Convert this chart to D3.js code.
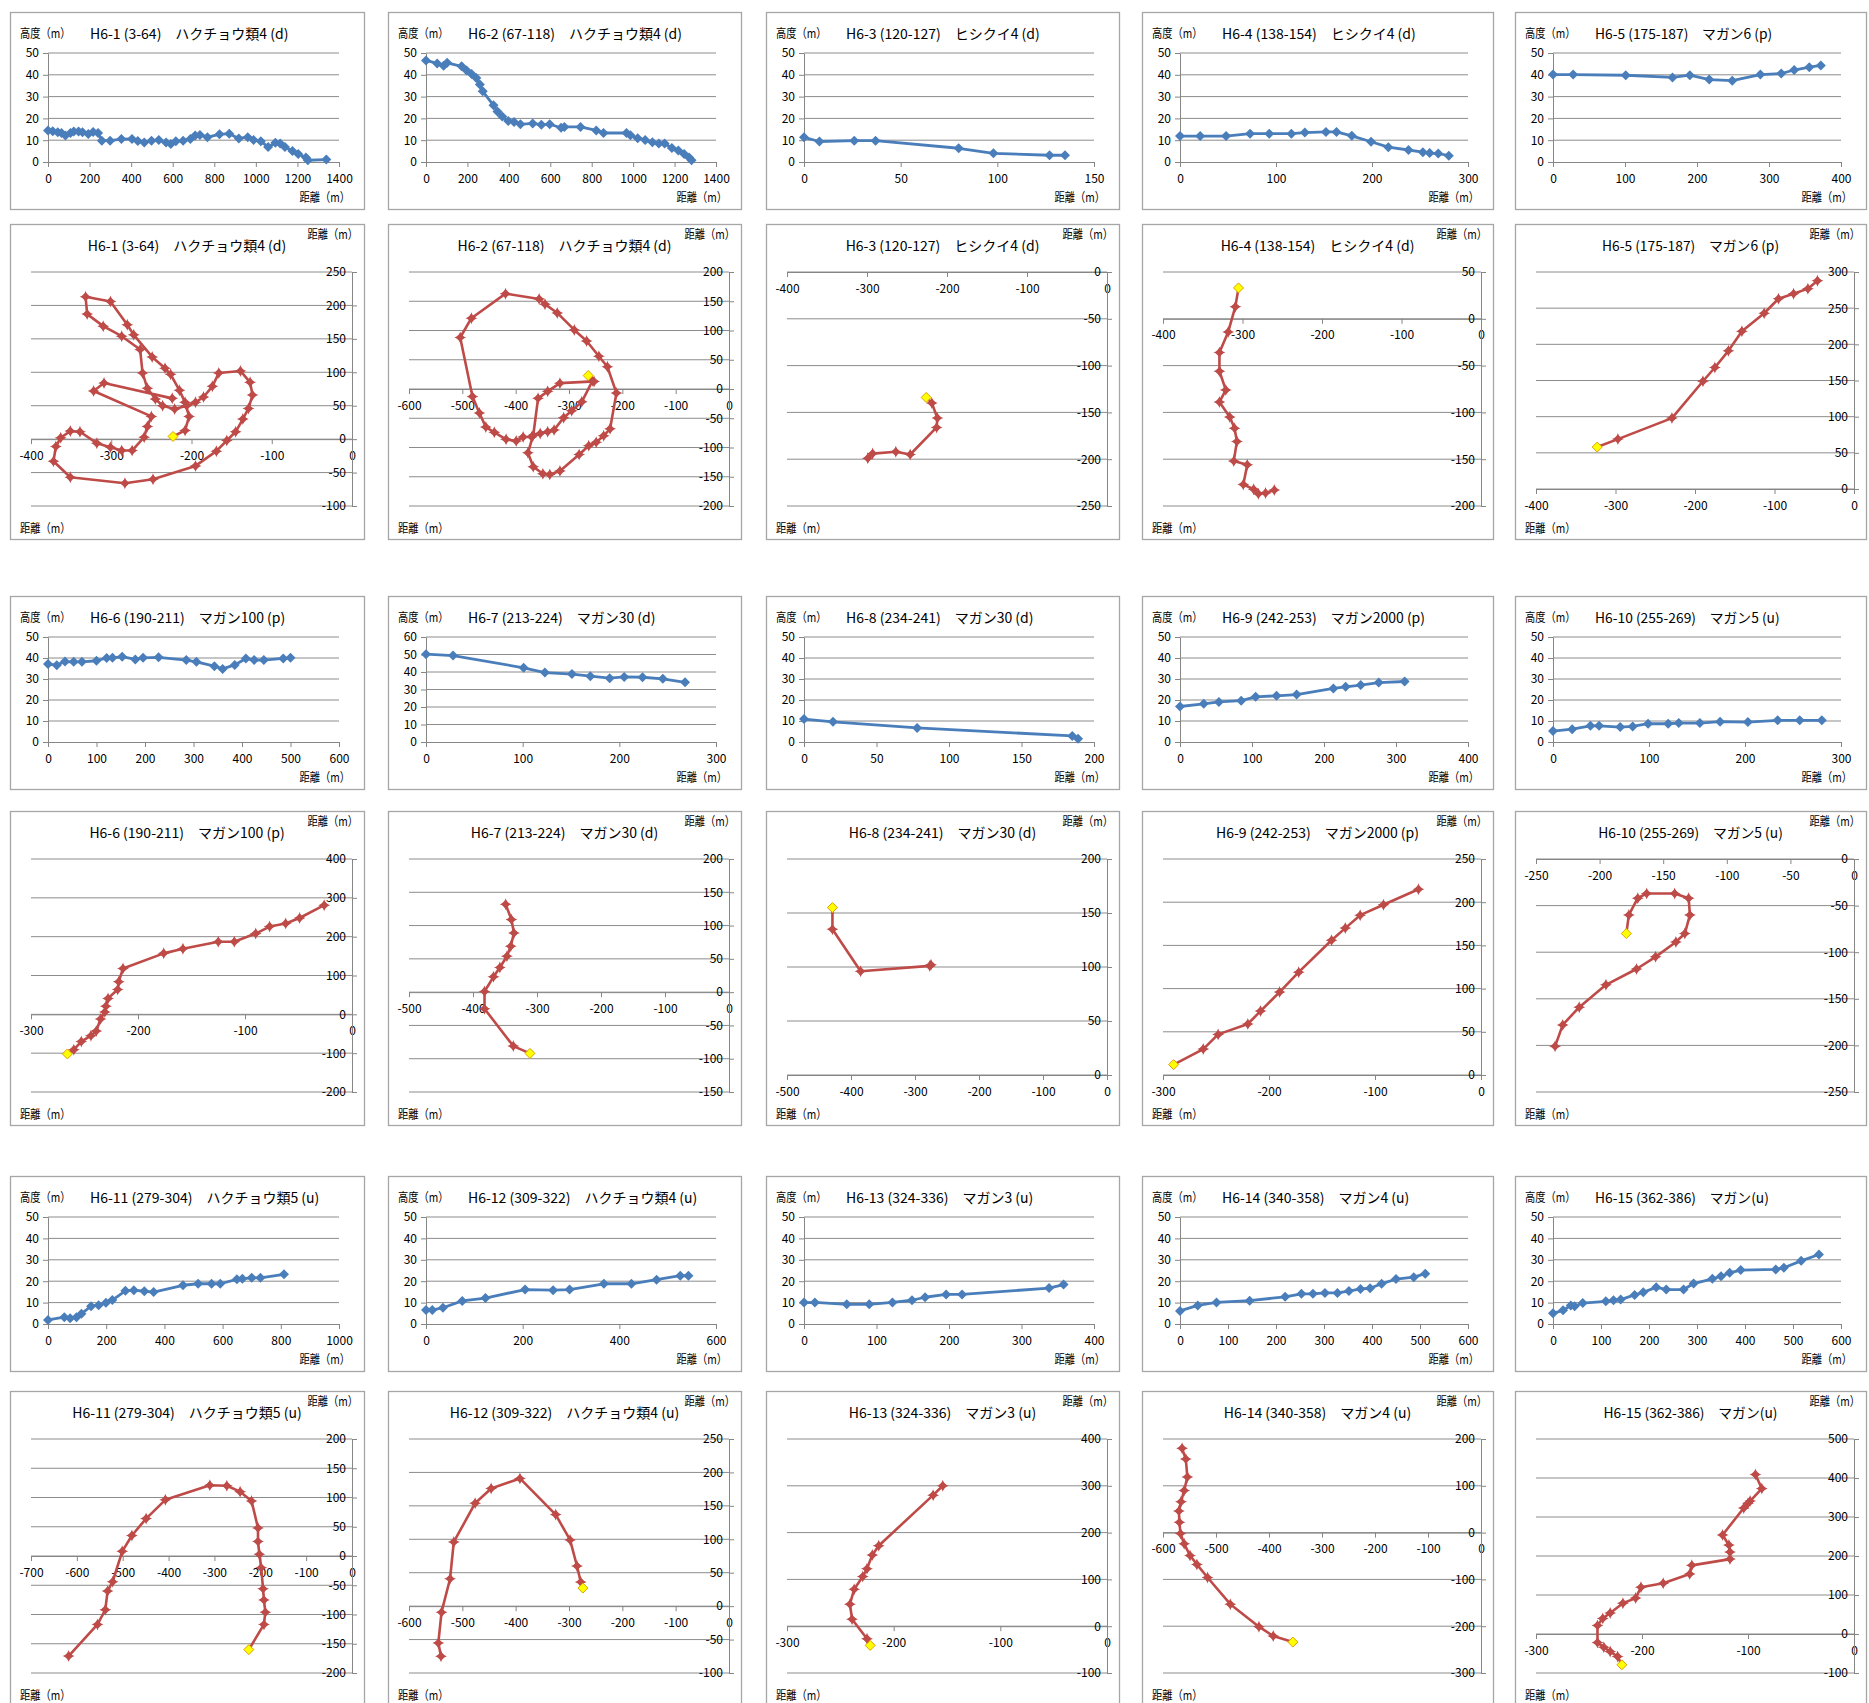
<!DOCTYPE html>
<meta charset="utf-8">
<style>
body { margin: 0; background: #fff; }
text { font-family: "Noto Sans CJK JP", "Noto Sans", sans-serif; fill: #000; }
</style>
<svg width="1869" height="1703"></svg>
<script src="https://d3js.org/d3.v7.min.js"></script>
<script>
"use strict";

// titles of the 15 flights
var titles = [
  "H6-1 (3-64)　ハクチョウ類4 (d)", "H6-2 (67-118)　ハクチョウ類4 (d)", "H6-3 (120-127)　ヒシクイ4 (d)",
  "H6-4 (138-154)　ヒシクイ4 (d)", "H6-5 (175-187)　マガン6 (p)", "H6-6 (190-211)　マガン100 (p)",
  "H6-7 (213-224)　マガン30 (d)", "H6-8 (234-241)　マガン30 (d)", "H6-9 (242-253)　マガン2000 (p)",
  "H6-10 (255-269)　マガン5 (u)", "H6-11 (279-304)　ハクチョウ類5 (u)", "H6-12 (309-322)　ハクチョウ類4 (u)",
  "H6-13 (324-336)　マガン3 (u)", "H6-14 (340-358)　マガン4 (u)", "H6-15 (362-386)　マガン(u)"
];

// altitude charts: x max, x step, y max
var altXMax  = [1400, 1400, 150, 300, 400, 600, 300, 200, 400, 300, 1000, 600, 400, 600, 600];
var altXStep = [200, 200, 50, 100, 100, 100, 100, 50, 100, 100, 200, 200, 100, 100, 100];
var altYMax  = [50, 50, 50, 50, 50, 50, 60, 50, 50, 50, 50, 50, 50, 50, 50];

// track charts: [min, max, step]
var trkX = [[-400,0,100],[-600,0,100],[-400,0,100],[-400,0,100],[-400,0,100],
            [-300,0,100],[-500,0,100],[-500,0,100],[-300,0,100],[-250,0,50],
            [-700,0,100],[-600,0,100],[-300,0,100],[-600,0,100],[-300,0,100]];
var trkY = [[-100,250,50],[-200,200,50],[-250,0,50],[-200,50,50],[0,300,50],
            [-200,400,100],[-150,200,50],[0,200,50],[0,250,50],[-250,0,50],
            [-200,200,50],[-100,250,50],[-100,400,100],[-300,200,100],[-100,500,100]];

// altitude profiles [distance, height]
var alt1 = [[0,14.5],[23,14.1],[47,13.7],[65,13.3],[84,12.1],[108,13.3],[124,14],[147,14],[166,13.7],[194,12.9],[217,13.8],[241,13.3],[259,9.8],[299,9.8],[353,10.5],[404,10.6],[432,9.6],[463,9],[498,9.8],[533,10.1],[568,9],[591,8.2],[615,9.5],[650,9.8],[685,10.5],[708,12.1],[731,12.4],[767,11.4],[825,12.7],[872,13],[918,10.8],[961,11.4],[989,10.1],[1024,9.5],[1059,6.9],[1094,8.8],[1117,8.5],[1140,6.9],[1176,5],[1204,3.7],[1241,2.1],[1250,0.8],[1339,1.1]];
var alt2 = [[0,46.6],[54,45.2],[85,44.1],[102,45.5],[172,43.9],[196,42],[220,40.4],[243,38.5],[260,35.6],[274,32.4],[326,26],[345,23.2],[368,20.9],[397,18.8],[425,18.4],[456,17.3],[515,17.7],[557,17.1],[597,17.3],[652,15.7],[668,16.1],[746,16.1],[822,14.5],[857,13.3],[968,13.3],[987,12.3],[1022,10.9],[1058,10.1],[1093,9.1],[1124,8.5],[1152,8.5],[1187,6.4],[1218,5.3],[1246,3.7],[1270,2.1],[1282,0.8]];
var alt3 = [[0,11.3],[8,9.4],[26,9.8],[37,9.8],[80,6.3],[98,4],[127,3.1],[135,3.1]];
var alt4 = [[0,11.9],[21,11.9],[48,11.9],[73,13],[93,13],[116,13],[130,13.5],[152,13.8],[163,13.8],[179,12],[199,9.3],[217,6.8],[238,5.5],[253,4.5],[260,4.1],[269,3.9],[280,2.9]];
var alt5 = [[0,40.1],[28,40.1],[101,39.8],[166,38.8],[190,39.8],[217,37.8],[249,37.3],[288,40.1],[317,40.6],[335,42.2],[356,43.5],[372,44.3]];
var alt6 = [[0,37.1],[18,36.6],[35,38.3],[53,38.2],[70,38.2],[100,38.7],[121,40],[133,40.1],[153,40.6],[180,39.3],[196,40.1],[228,40.3],[285,39],[306,38.2],[343,36.1],[360,34.8],[385,36.7],[408,39.8],[425,39],[445,39],[485,39.8],[500,40.1]];
var alt7 = [[0,50.2],[28,49.4],[101,42.4],[123,39.7],[151,38.8],[170,37.6],[190,36.5],[205,37.2],[224,37],[245,36.1],[268,34.1]];
var alt8 = [[0,10.9],[20,9.6],[78,6.7],[185,2.9],[189,1.6]];
var alt9 = [[0,16.9],[33,18.2],[54,19.1],[85,19.7],[105,21.5],[134,22],[162,22.6],[213,25.5],[230,26.3],[251,27.1],[276,28.3],[312,28.8]];
var alt10 = [[0,5.2],[20,6.1],[39,7.7],[48,7.7],[70,7.1],[83,7.4],[99,8.7],[120,8.7],[131,9],[153,9],[174,9.7],[203,9.5],[234,10.3],[257,10.3],[280,10.3]];
var alt11 = [[0,1.9],[56,3.2],[76,2.7],[98,3.2],[115,4.8],[148,8.3],[174,8.8],[199,9.9],[221,11.2],[266,15.5],[295,15.8],[331,15.3],[363,14.9],[464,18.1],[516,18.8],[562,18.8],[592,18.8],[649,20.9],[668,21.2],[700,21.6],[730,21.6],[811,23.2]];
var alt12 = [[0,6.5],[13,6.5],[35,7.6],[75,10.8],[123,12.1],[205,16.1],[263,15.8],[297,16.1],[368,18.8],[425,18.8],[477,20.7],[526,22.6],[543,22.5]];
var alt13 = [[0,10],[15,10.1],[59,9.2],[90,9.2],[122,10.1],[149,11.1],[167,12.5],[196,13.8],[218,13.8],[338,16.8],[358,18.4]];
var alt14 = [[0,6.1],[37,8.7],[76,10.1],[145,10.9],[219,12.7],[253,14.1],[277,14.1],[302,14.5],[328,14.5],[352,15.4],[376,16.4],[396,16.7],[420,18.8],[450,21],[487,21.9],[511,23.5]];
var alt15 = [[0,5],[21,6.4],[37,8.6],[45,8.3],[62,9.8],[110,10.6],[126,11.1],[141,11.4],[170,13.6],[188,14.8],[215,17.2],[236,16.1],[272,16.1],[293,18.9],[332,21.1],[350,22.3],[368,23.9],[391,25.2],[464,25.5],[481,26.3],[517,29.5],[554,32.5]];

// plan-view tracks [east-west, north-south]; first point = start (yellow)
var trk1 = [[-223,4],[-208,13],[-203,34],[-208,55],[-215,73],[-226,97],[-233,106],[-249,123],[-272,156],[-280,171],[-301,206],[-332,213],[-330,187],[-310,169],[-287,154],[-264,134],[-261,99],[-255,76],[-245,60],[-236,50],[-221,45],[-206,50],[-195,55],[-185,63],[-174,79],[-166,99],[-139,102],[-127,85],[-124,66],[-129,46],[-136,30],[-145,11],[-156,-2],[-169,-18],[-195,-40],[-248,-60],[-283,-66],[-351,-57],[-372,-33],[-369,-11],[-363,2],[-351,12],[-339,11],[-318,-6],[-301,-12],[-287,-17],[-274,-17],[-259,3],[-255,19],[-250,34],[-322,72],[-309,84],[-224,61]];
var trk2 = [[-264,23],[-256,14],[-276,-22],[-295,-37],[-310,-49],[-328,-70],[-340,-73],[-354,-76],[-370,-82],[-386,-82],[-399,-89],[-418,-86],[-440,-74],[-456,-65],[-468,-41],[-481,-13],[-504,88],[-483,121],[-419,163],[-356,154],[-345,145],[-322,130],[-290,101],[-267,82],[-244,56],[-228,38],[-211,-7],[-223,-68],[-235,-80],[-249,-91],[-263,-97],[-281,-112],[-317,-140],[-336,-146],[-349,-145],[-367,-133],[-377,-109],[-367,-79],[-358,-16],[-340,-4],[-317,10],[-253,13]];
var trk3 = [[-226,-134],[-219,-140],[-212,-156],[-213,-166],[-246,-195],[-264,-192],[-293,-194],[-299,-199]];
var trk4 = [[-305,33],[-309,13],[-318,-14],[-329,-36],[-329,-56],[-321,-76],[-329,-89],[-316,-105],[-310,-117],[-307,-131],[-311,-152],[-294,-156],[-299,-177],[-286,-182],[-280,-187],[-271,-186],[-260,-183]];
var trk5 = [[-323,58],[-297,69],[-229,98],[-190,149],[-175,168],[-158,191],[-141,218],[-113,243],[-95,263],[-76,270],[-58,277],[-46,288]];
var trk6 = [[-266,-102],[-260,-91],[-253,-70],[-244,-55],[-239,-43],[-235,-12],[-231,6],[-230,21],[-228,41],[-219,64],[-218,84],[-214,118],[-176,157],[-158,169],[-125,187],[-110,187],[-90,208],[-77,226],[-62,234],[-49,248],[-26,281]];
var trk7 = [[-311,-92],[-337,-81],[-382,-25],[-382,1],[-368,23],[-358,37],[-347,54],[-341,69],[-336,89],[-340,109],[-349,132]];
var trk8 = [[-429,155],[-429,135],[-385,96],[-277,101],[-275,102]];
var trk9 = [[-290,12],[-262,30],[-248,47],[-220,59],[-208,74],[-190,96],[-172,119],[-141,156],[-128,170],[-114,185],[-92,197],[-59,215]];
var trk10 = [[-179,-80],[-177,-60],[-170,-42],[-163,-37],[-141,-37],[-130,-42],[-129,-60],[-133,-80],[-140,-89],[-156,-105],[-171,-118],[-195,-135],[-216,-159],[-229,-178],[-235,-201]];
var trk11 = [[-225,-160],[-192,-117],[-189,-96],[-192,-75],[-194,-56],[-198,-20],[-202,3],[-205,25],[-205,48],[-219,94],[-244,110],[-273,120],[-310,121],[-407,96],[-449,64],[-480,35],[-501,8],[-522,-44],[-533,-60],[-538,-92],[-555,-117],[-618,-171]];
var trk12 = [[-274,27],[-278,36],[-285,60],[-298,99],[-325,137],[-392,191],[-446,176],[-476,154],[-516,96],[-523,41],[-539,-9],[-545,-55],[-540,-75]];
var trk13 = [[-222,-41],[-225,-27],[-239,15],[-241,47],[-237,79],[-229,106],[-225,123],[-220,152],[-214,172],[-163,280],[-154,300]];
var trk14 = [[-355,-234],[-392,-221],[-419,-201],[-473,-153],[-516,-96],[-536,-68],[-549,-49],[-560,-24],[-567,-2],[-569,22],[-570,46],[-566,66],[-560,90],[-554,119],[-557,157],[-564,180]];
var trk15 = [[-219,-79],[-223,-58],[-230,-45],[-236,-34],[-242,-22],[-242,22],[-237,40],[-230,54],[-218,79],[-206,92],[-201,120],[-180,130],[-155,154],[-153,176],[-117,192],[-117,210],[-118,228],[-124,254],[-104,323],[-100,335],[-98,341],[-87,373],[-93,409]];

var altSets = [alt1,alt2,alt3,alt4,alt5,alt6,alt7,alt8,alt9,alt10,alt11,alt12,alt13,alt14,alt15];
var trkSets = [trk1,trk2,trk3,trk4,trk5,trk6,trk7,trk8,trk9,trk10,trk11,trk12,trk13,trk14,trk15];

// layout
var colX = [10, 388, 766, 1142, 1515];
var colW = [354, 353, 353, 351, 351];
var altTop = [12, 596, 1176], altH = [197, 193, 195];
var trkTop = [224, 811, 1391], trkH = [315, 314, 315];

var blue = "#4A7EBB", red = "#BE4B48", gridCol = "#8c8c8c", axisCol = "#868686";
var font = '"Noto Sans CJK JP", "Noto Sans", sans-serif';

var svg = d3.select("svg");

function diamond(r) { return "M0," + (-r) + "L" + r + ",0L0," + r + "L" + (-r) + ",0Z"; }
var starPath = "M0,-6L1.6,-1.6L6,0L1.6,1.6L0,6L-1.6,1.6L-6,0L-1.6,-1.6Z";

function txt(g, s, x, y, size, anchor, sx) {
  return g.append("text")
    .attr("transform", "translate(" + x + "," + y + ") scale(" + sx + ",1)")
    .attr("font-size", size).attr("text-anchor", anchor).text(s);
}

function styleAxis(a) {
  a.attr("font-family", font).attr("font-size", 12);
  a.select(".domain").attr("stroke", axisCol);
  a.selectAll(".tick line").attr("stroke", axisCol);
  a.selectAll(".tick text").attr("fill", "#000");
}

function box(g, w, h) {
  g.append("rect").attr("x", 0.5).attr("y", 0.5).attr("width", w).attr("height", h)
    .attr("fill", "#fff").attr("stroke", "#a6a6a6").attr("stroke-width", 1.3);
}

function drawAlt(k) {
  var c = k % 5, r = Math.floor(k / 5);
  var w = colW[c], h = altH[r];
  var g = svg.append("g").attr("transform", "translate(" + colX[c] + "," + altTop[r] + ")");
  box(g, w, h);

  var x = d3.scaleLinear().domain([0, altXMax[k]]).range([38, w - 25]);
  var y = d3.scaleLinear().domain([0, altYMax[k]]).range([h - 47, 41]);
  var yt = d3.range(0, altYMax[k] + 1, 10);
  var xt = d3.range(0, altXMax[k] + 1, altXStep[k]);

  g.append("g").selectAll("line").data(yt.slice(1)).join("line")
    .attr("x1", x.range()[0]).attr("x2", x.range()[1])
    .attr("y1", function(d) { return y(d); }).attr("y2", function(d) { return y(d); })
    .attr("stroke", gridCol).attr("stroke-width", 1);

  var ax = g.append("g").attr("transform", "translate(0," + y(0) + ")")
    .call(d3.axisBottom(x).tickValues(xt).tickFormat(function(d) { return String(d); })
      .tickSize(5).tickSizeOuter(0).tickPadding(7));
  styleAxis(ax);
  var ay = g.append("g").attr("transform", "translate(" + x(0) + ",0)")
    .call(d3.axisLeft(y).tickValues(yt).tickFormat(function(d) { return String(d); })
      .tickSize(5).tickSizeOuter(0).tickPadding(4));
  styleAxis(ay);

  var data = altSets[k];
  var line = d3.line().x(function(d) { return x(d[0]); }).y(function(d) { return y(d[1]); });
  g.append("path").datum(data).attr("d", line).attr("fill", "none")
    .attr("stroke", blue).attr("stroke-width", 2.8).attr("stroke-linejoin", "round");
  g.append("g").selectAll("path").data(data).join("path")
    .attr("d", diamond(5))
    .attr("transform", function(d) { return "translate(" + x(d[0]) + "," + y(d[1]) + ")"; })
    .attr("fill", blue);

  txt(g, "高度（m）", 10, 26, 12.5, "start", 0.82);
  txt(g, titles[k], 80, 27, c < 4 ? 14 : 13.8, "start", 1);
  txt(g, "距離（m）", w - 14, h - 7, 12.5, "end", 0.82);
}

function drawTrk(k) {
  var c = k % 5, r = Math.floor(k / 5);
  var w = colW[c], h = trkH[r];
  var g = svg.append("g").attr("transform", "translate(" + colX[c] + "," + trkTop[r] + ")");
  box(g, w, h);

  var xd = trkX[k], yd = trkY[k];
  var x = d3.scaleLinear().domain([xd[0], xd[1]]).range([21, w - 12]);
  var y = d3.scaleLinear().domain([yd[0], yd[1]]).range([yd[0] === 0 ? h - 50 : h - 33, 48]);
  var xt = d3.range(xd[0], xd[1] + 1, xd[2]);
  var yt = d3.range(yd[0], yd[1] + 1, yd[2]);

  g.append("g").selectAll("line").data(yt).join("line")
    .attr("x1", x.range()[0]).attr("x2", x.range()[1])
    .attr("y1", function(d) { return y(d); }).attr("y2", function(d) { return y(d); })
    .attr("stroke", gridCol).attr("stroke-width", 1);

  var ax = g.append("g").attr("transform", "translate(0," + y(0) + ")")
    .call(d3.axisBottom(x).tickValues(xt).tickFormat(function(d) { return String(d); })
      .tickSize(5).tickSizeOuter(0).tickPadding(7));
  styleAxis(ax);
  var ay = g.append("g").attr("transform", "translate(" + x(0) + ",0)")
    .call(d3.axisLeft(y).tickValues(yt).tickFormat(function(d) { return String(d); })
      .tickSizeInner(-5).tickSizeOuter(0).tickPadding(6));
  styleAxis(ay);

  var data = trkSets[k];
  var line = d3.line().x(function(d) { return x(d[0]); }).y(function(d) { return y(d[1]); });
  g.append("path").datum(data).attr("d", line).attr("fill", "none")
    .attr("stroke", red).attr("stroke-width", 2.6).attr("stroke-linejoin", "round");
  var mk = g.append("g").selectAll("g").data(data.slice(1)).join("g")
    .attr("transform", function(d) { return "translate(" + x(d[0]) + "," + y(d[1]) + ")"; });
  mk.append("path").attr("d", diamond(4.5)).attr("fill", red);
  mk.append("path").attr("d", starPath).attr("fill", red);
  g.append("path").attr("d", diamond(5))
    .attr("transform", "translate(" + x(data[0][0]) + "," + y(data[0][1]) + ")")
    .attr("fill", "#FFFF00").attr("stroke", "#E0A000").attr("stroke-width", 1);

  txt(g, titles[k], w / 2, 27, c < 4 ? 14 : 13.8, "middle", 1);
  txt(g, "距離（m）", w - 6, 15, 12.5, "end", 0.82);
  txt(g, "距離（m）", 10, h - 6, 12.5, "start", 0.82);
}

for (var k = 0; k < 15; k++) {
  drawAlt(k);
  drawTrk(k);
}
</script>
